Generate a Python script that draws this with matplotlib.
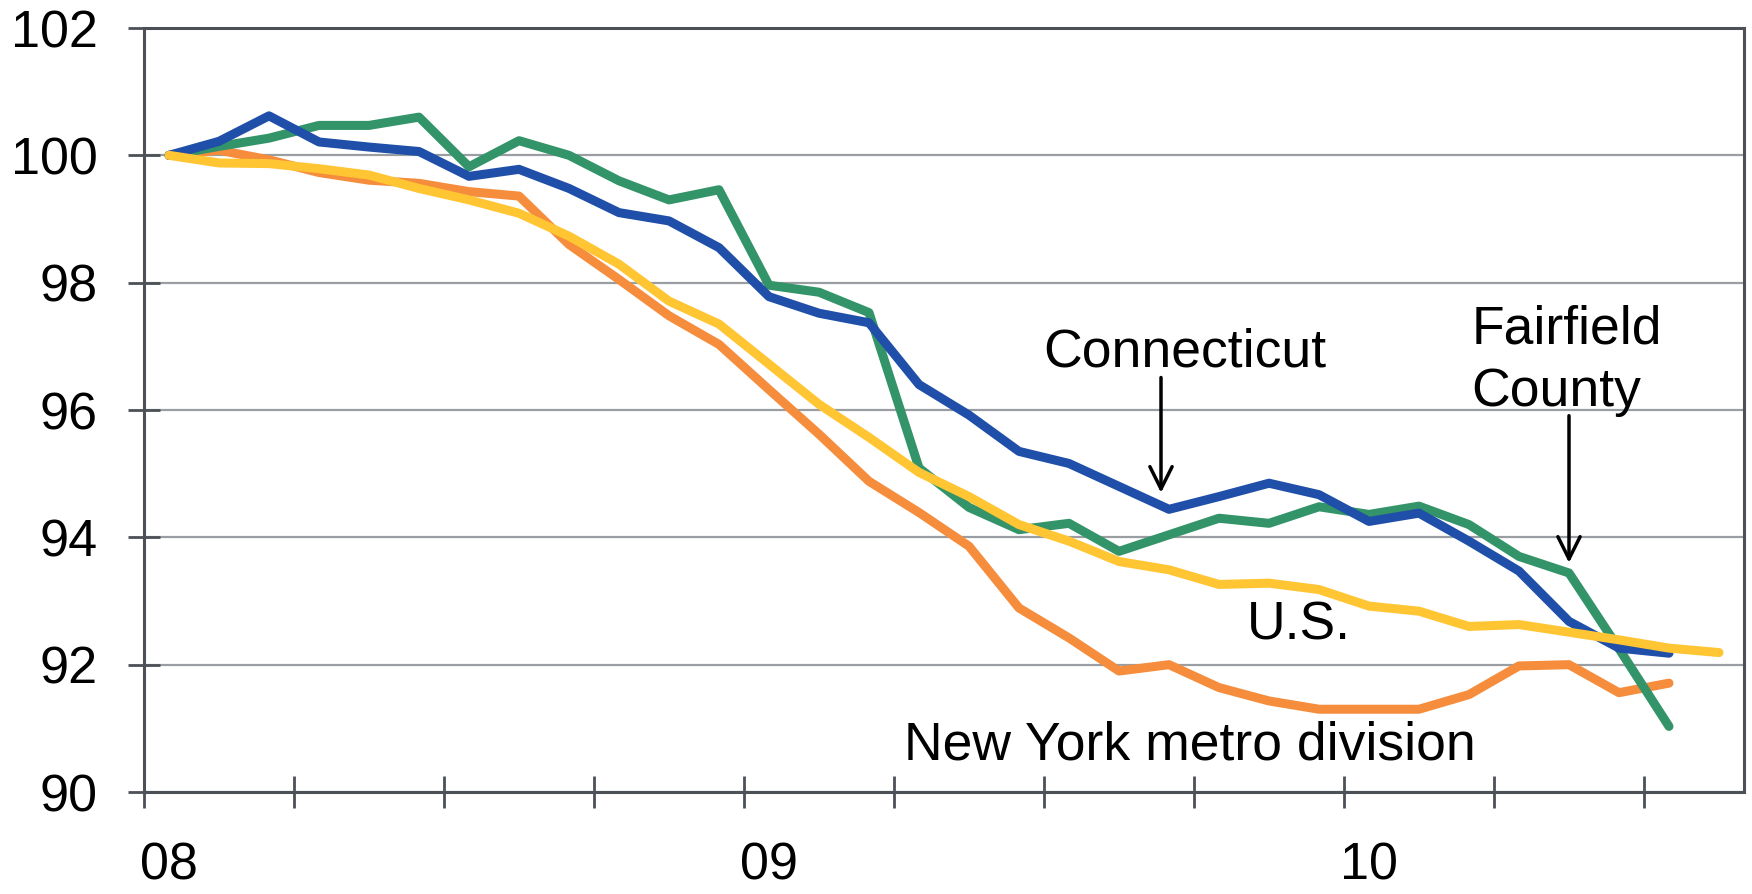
import matplotlib
matplotlib.use("Agg")
import matplotlib.pyplot as plt
import numpy as np

plt.rcParams['font.family'] = ['Liberation Sans', 'DejaVu Sans']

# Monthly index, Jan 2008 = 100
months = list(range(32))
fairfield = [100.00, 100.14, 100.27, 100.47, 100.47, 100.60, 99.82, 100.23, 100.00, 99.60,
             99.30, 99.46, 97.96, 97.85, 97.53, 95.09, 94.47, 94.12, 94.22, 93.78,
             94.04, 94.30, 94.22, 94.48, 94.36, 94.49, 94.20, 93.70, 93.44, 92.25,
             91.03]
connecticut = [100.00, 100.22, 100.62, 100.21, 100.13, 100.06, 99.67, 99.78, 99.48, 99.10,
               98.97, 98.55, 97.78, 97.52, 97.37, 96.40, 95.92, 95.35, 95.16, 94.80,
               94.44, 94.64, 94.85, 94.67, 94.25, 94.38, 93.94, 93.47, 92.68, 92.26,
               92.18]
new_york = [100.00, 100.08, 99.93, 99.73, 99.61, 99.56, 99.43, 99.36, 98.60, 98.05,
            97.48, 97.03, 96.32, 95.62, 94.88, 94.39, 93.86, 92.89, 92.42, 91.90,
            92.00, 91.64, 91.43, 91.30, 91.30, 91.30, 91.53, 91.98, 92.00, 91.56,
            91.71]
us = [100.00, 99.88, 99.87, 99.79, 99.69, 99.48, 99.30, 99.09, 98.73, 98.29,
      97.71, 97.35, 96.72, 96.09, 95.57, 95.02, 94.64, 94.20, 93.94, 93.62,
      93.49, 93.26, 93.28, 93.18, 92.92, 92.84, 92.60, 92.63, 92.51, 92.39,
      92.26, 92.19]

year_pos = [0, 12, 24]
year_labels = ['08', '09', '10']
quarter_ticks = [-0.5 + 3 * k for k in range(11)]
y_ticks = [90, 92, 94, 96, 98, 100, 102]

c_green = '#349469'
c_blue = '#1F4FA8'
c_orange = '#F58D3C'
c_yellow = '#FFC533'
c_axis = '#4C5157'
c_grid = '#9A9DA1'

fig = plt.figure(figsize=(17.52, 8.94), dpi=100)
ax = fig.add_axes([144/1752, 1 - 792/894, (1744-144)/1752, (792-28)/894])

lw = 6.5
def n(a):
    return months[:len(a)]
ax.plot(n(new_york), new_york, color=c_orange, lw=lw, solid_capstyle='round', zorder=3)
ax.plot(n(fairfield), fairfield, color=c_green, lw=lw, solid_capstyle='round', zorder=4)
ax.plot(n(connecticut), connecticut, color=c_blue, lw=lw, solid_capstyle='round', zorder=5)
ax.plot(n(us), us, color=c_yellow, lw=lw, solid_capstyle='round', zorder=6)

ax.set_xlim(-0.5, 31.5)
ax.set_ylim(90, 102)

ax.set_yticks(y_ticks)
ax.set_yticklabels([str(v) for v in y_ticks])
ax.yaxis.grid(True, color=c_grid, lw=1.6, zorder=1)
ax.set_axisbelow(True)

ax.set_xticks(quarter_ticks)
ax.set_xticklabels([''] * len(quarter_ticks))
ax.set_xticks(year_pos, minor=True)
ax.set_xticklabels(year_labels, minor=True)

ax.tick_params(axis='both', which='major', direction='inout', length=23, width=2.0,
               color=c_axis, labelsize=37.5, labelcolor='black')
ax.tick_params(axis='y', which='major', pad=22)
ax.tick_params(axis='x', which='minor', length=0, pad=36, labelsize=37.5)

for s in ax.spines.values():
    s.set_color(c_axis)
    s.set_linewidth(2.2)
ax.spines['top'].set_zorder(7)

fs = 38.5
ax.text(20.32, 96.69, 'Connecticut', fontsize=fs, ha='center', va='baseline')
ax.text(26.05, 97.04, 'Fairfield', fontsize=fs, ha='left', va='baseline')
ax.text(26.05, 96.07, 'County', fontsize=fs, ha='left', va='baseline')
ax.text(21.55, 92.39, 'U.S.', fontsize=fs, ha='left', va='baseline')
ax.text(14.7, 90.51, 'New York metro division', fontsize=fs, ha='left', va='baseline')

arrow = dict(arrowstyle='->', lw=2.5, color='black', mutation_scale=40,
             shrinkA=0, shrinkB=0)
ax.annotate('', xy=(19.84, 94.70), xytext=(19.84, 96.51), arrowprops=arrow, zorder=8)
ax.annotate('', xy=(28.0, 93.60), xytext=(28.0, 95.91), arrowprops=arrow, zorder=8)

fig.savefig('out.png', dpi=100)
